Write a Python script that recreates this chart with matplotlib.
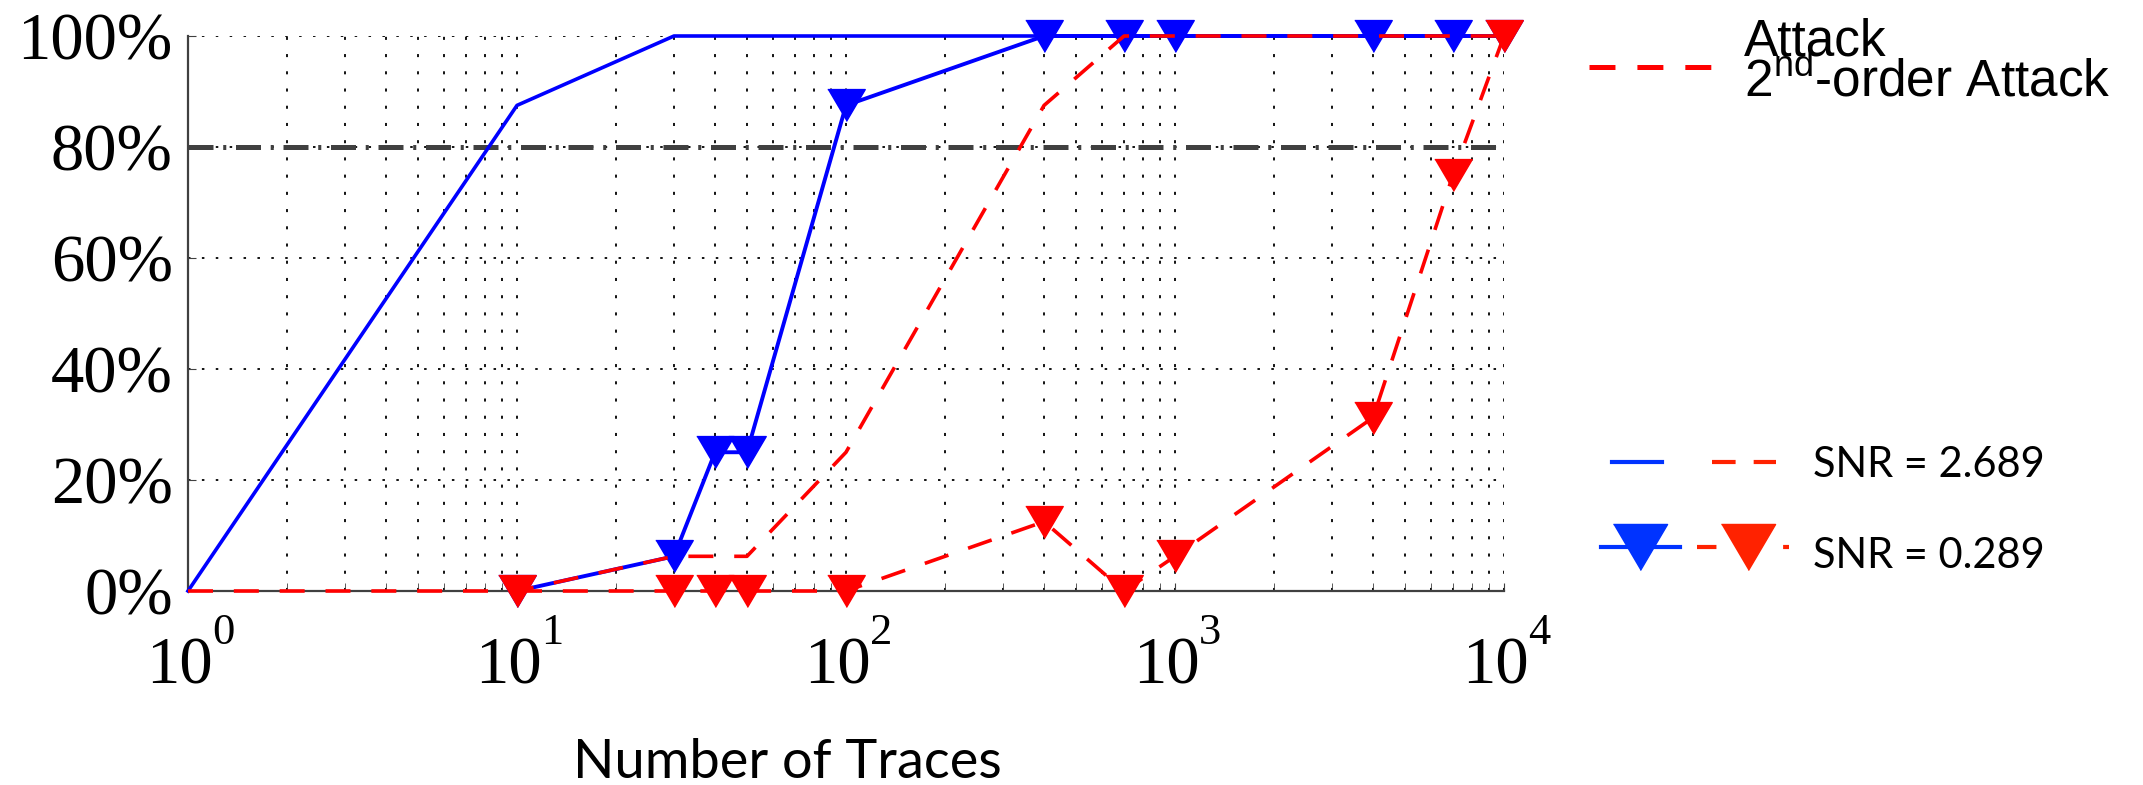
import numpy as np
import matplotlib
matplotlib.use('Agg')
from matplotlib import pyplot as plt
from matplotlib.ticker import LogLocator, NullFormatter
from matplotlib.transforms import ScaledTranslation

plt.rcParams['lines.scale_dashes'] = False
plt.rcParams['mathtext.fontset'] = 'custom'
plt.rcParams['mathtext.rm'] = 'Liberation Sans'

# success rate (%) vs number of traces
x_hi = [1, 10, 30, 40, 50, 100, 400, 700, 1000, 4000, 7000, 10000]
first_hi = [0, 87.5, 100, 100, 100, 100, 100, 100, 100, 100, 100, 100]
second_hi = [0, 0, 6.25, 6.25, 6.25, 25, 87.5, 100, 100, 100, 100, 100]

x_lo = [10, 30, 40, 50, 100, 400, 700, 1000, 4000, 7000, 10000]
first_lo = [0, 6.25, 25, 25, 87.5, 100, 100, 100, 100, 100, 100]
second_lo = [0, 0, 0, 0, 0, 12.5, 0, 6.25, 31.25, 75, 100]

threshold = 80
xticks = [1, 10, 100, 1000, 10000]
exponents = ['0', '1', '2', '3', '4']
yticks = [0, 20, 40, 60, 80, 100]

W, H = 2143, 785
fig = plt.figure(figsize=(W / 100, H / 100), dpi=100)
ax = fig.add_axes([188 / W, 1 - 591 / H, (1504 - 188) / W, (591 - 36) / H])

tri = [(-1, 0.85), (1, 0.85), (0, -0.85)]
ms = 27
red_dash = (18, 15)

ax.plot(x_hi, first_hi, color='#0000ff', lw=2.6, clip_on=False, zorder=3)
ax.plot(x_lo, first_lo, color='#0000ff', lw=2.8, marker=tri, ms=ms, clip_on=False, zorder=3)
ax.plot(x_hi, second_hi, color='#ff0000', lw=2.6, dashes=red_dash, clip_on=False, zorder=4)
ax.plot(x_lo, second_lo, color='#ff0000', lw=2.6, dashes=red_dash, marker=tri, ms=ms,
        clip_on=False, zorder=5)
ax.axhline(threshold, color='#404040', lw=3.6, dashes=(18, 7, 2.2, 7), zorder=2)

ax.set_xscale('log')
ax.set_xlim(1, 10000)
ax.set_ylim(0, 100)
ax.set_xticks(xticks)
ax.set_xticklabels(['10'] * len(xticks))
ax.xaxis.set_minor_locator(LogLocator(base=10, subs=np.arange(2, 10)))
ax.xaxis.set_minor_formatter(NullFormatter())
ax.set_yticks(yticks)
ax.set_yticklabels([f'{v}%' for v in yticks])

ax.grid(which='both', axis='x', color='k', lw=1.3, ls=(0, (2.2, 10.2)))
ax.grid(which='major', axis='y', color='k', lw=1.3, ls=(0, (1.8, 8.2)))
ax.set_axisbelow(True)

for s in ['top', 'right']:
    ax.spines[s].set_visible(False)
for s in ['left', 'bottom']:
    ax.spines[s].set_color('#404040')
    ax.spines[s].set_linewidth(1.6)

ax.tick_params(which='both', direction='in', color='#404040', length=6)
ax.tick_params(axis='y', labelsize=48, pad=11)
ax.tick_params(axis='x', labelsize=48, pad=33)
for lab in ax.get_xticklabels() + ax.get_yticklabels():
    lab.set_family('Liberation Serif')
shift = ScaledTranslation(-9 / 100, 0, fig.dpi_scale_trans)
for lab in ax.get_xticklabels():
    lab.set_transform(lab.get_transform() + shift)
for t, e in zip(xticks, exponents):
    ax.annotate(e, xy=(t, 0), xycoords=('data', 'axes fraction'), xytext=(24, -22),
                textcoords='offset pixels', ha='left', va='top', fontsize=32,
                family='Liberation Serif', annotation_clip=False)

fig.text(787 / W, 1 - 778 / H, 'Number of Traces', ha='center', va='baseline',
         fontsize=39, family='Lato')

# legend area
lg = fig.add_axes([0, 0, 1, 1])
lg.set_xlim(0, W)
lg.set_ylim(H, 0)
lg.axis('off')
lg.plot([1589, 1711], [67, 67], color='#ff0000', lw=3.6, dashes=(18.7, 15.8))
fig.text(1744 / W, 1 - 18 / H, 'Attack\n' + r'2$^{\mathrm{nd}}$-order Attack', va='top',
         fontsize=37, family='Liberation Sans', linespacing=0.72)

lg.plot([1612, 1662], [462, 462], color='#0033ff', lw=3)
lg.plot([1712, 1776], [462, 462], color='#ff2200', lw=3, dashes=(17, 13))
lg.plot([1601, 1680], [547, 547], color='#0033ff', lw=3)
lg.plot([1640], [547], color='#0033ff', marker=tri, ms=39, ls='none')
lg.plot([1697, 1789], [547, 547], color='#ff2200', lw=3, dashes=(14, 48, 4.3, 10))
lg.plot([1748], [547], color='#ff2200', marker=tri, ms=39, ls='none')
fig.text(1813 / W, 1 - 477 / H, 'SNR = 2.689', va='baseline', fontsize=30, family='Lato')
fig.text(1813 / W, 1 - 568 / H, 'SNR = 0.289', va='baseline', fontsize=30, family='Lato')

fig.savefig('out.png', dpi=100)
